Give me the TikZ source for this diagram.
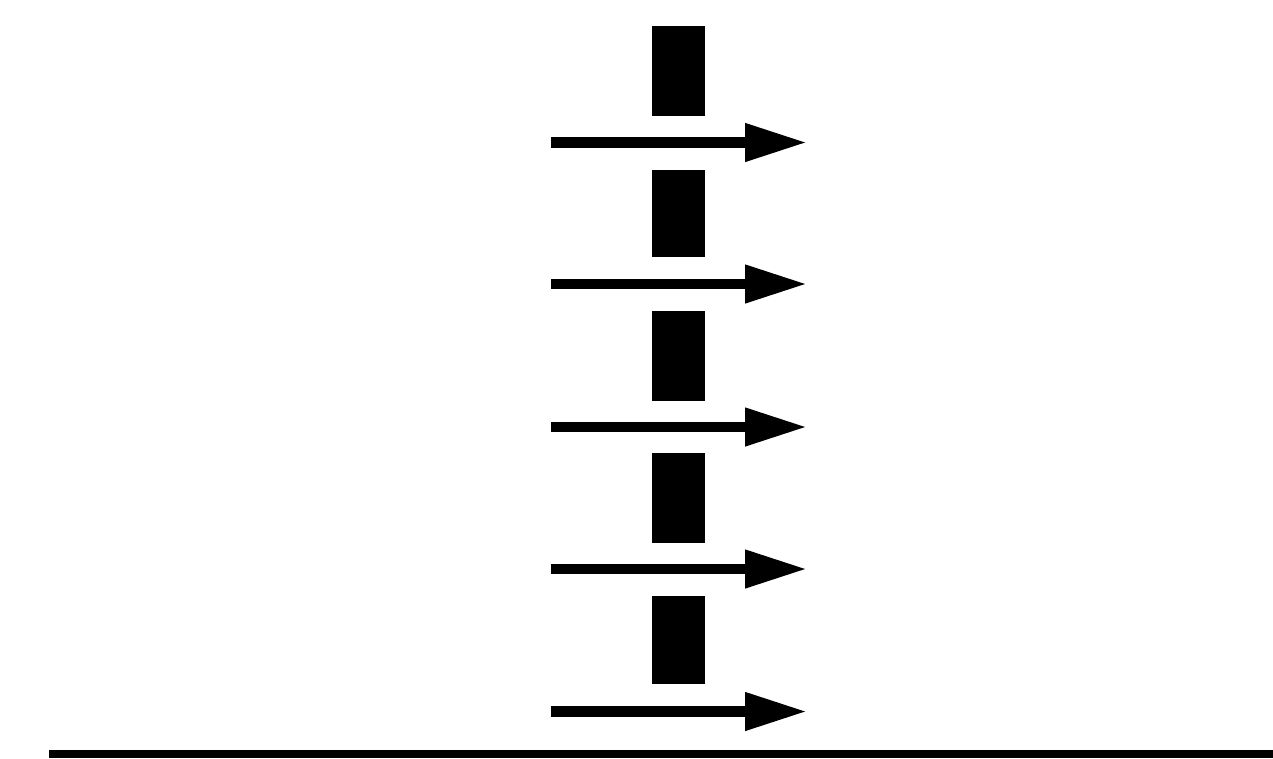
\documentclass[tikz,border=0pt]{standalone}
\usetikzlibrary{arrows.meta}
\begin{document}
\begin{tikzpicture}[x=1pt,y=-1pt,
  bar/.style={fill=black,draw=none},
  flow/.style={line width=10.5pt,-{Triangle[length=62pt,width=36pt]}}]
\useasboundingbox (0,0) rectangle (1273,758);
\fill[white] (0,0) rectangle (1273,758);
% bars
\foreach \t/\b [count=\i] in {26/116,170/257,311/401,453/543,596/684}{
  \path[bar] (652,\t) rectangle (705,\b);
}
% arrows
\foreach \y [count=\i] in {142.5,284,427,569,711.5}{
  \coordinate (s\i) at (551,\y);
  \coordinate (e\i) at (807,\y);
  \draw[flow] (s\i) -- (e\i);
}
% ground line
\fill[black] (49,750) rectangle (1273,758);
\end{tikzpicture}
\end{document}
